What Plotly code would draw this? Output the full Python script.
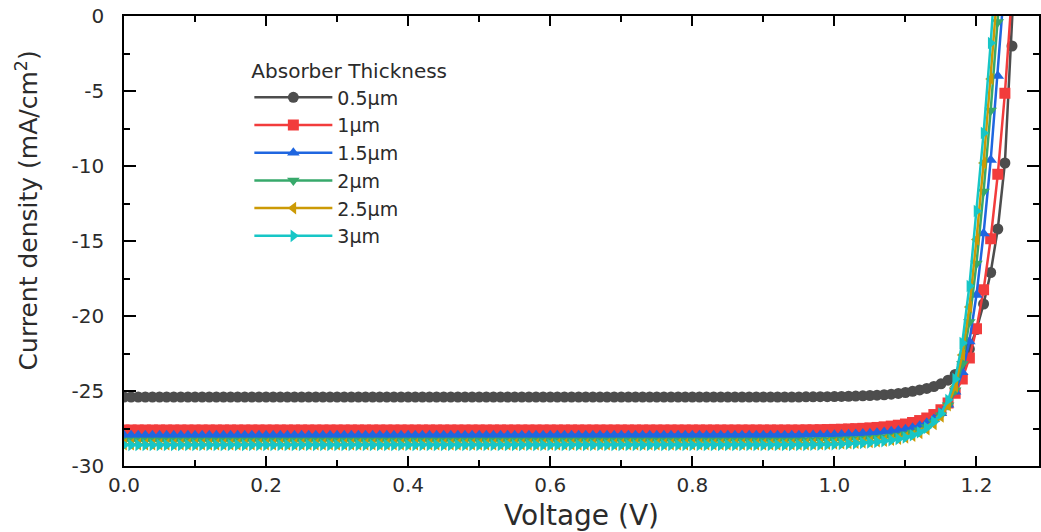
import plotly.graph_objects as go

# Applied bias (V)
voltage = [
    0.00, 0.01, 0.02, 0.03, 0.04, 0.05, 0.06, 0.07, 0.08, 0.09,
    0.10, 0.11, 0.12, 0.13, 0.14, 0.15, 0.16, 0.17, 0.18, 0.19,
    0.20, 0.21, 0.22, 0.23, 0.24, 0.25, 0.26, 0.27, 0.28, 0.29,
    0.30, 0.31, 0.32, 0.33, 0.34, 0.35, 0.36, 0.37, 0.38, 0.39,
    0.40, 0.41, 0.42, 0.43, 0.44, 0.45, 0.46, 0.47, 0.48, 0.49,
    0.50, 0.51, 0.52, 0.53, 0.54, 0.55, 0.56, 0.57, 0.58, 0.59,
    0.60, 0.61, 0.62, 0.63, 0.64, 0.65, 0.66, 0.67, 0.68, 0.69,
    0.70, 0.71, 0.72, 0.73, 0.74, 0.75, 0.76, 0.77, 0.78, 0.79,
    0.80, 0.81, 0.82, 0.83, 0.84, 0.85, 0.86, 0.87, 0.88, 0.89,
    0.90, 0.91, 0.92, 0.93, 0.94, 0.95, 0.96, 0.97, 0.98, 0.99,
    1.00, 1.01, 1.02, 1.03, 1.04, 1.05, 1.06, 1.07, 1.08, 1.09,
    1.10, 1.11, 1.12, 1.13, 1.14, 1.15, 1.16, 1.17, 1.18, 1.19,
    1.20, 1.21, 1.22, 1.23, 1.24, 1.25, 1.26,
]

# Current density (mA/cm^2) for each absorber thickness
j_0p5um = [
    -25.40, -25.40, -25.40, -25.40, -25.40, -25.40, -25.40, -25.40, -25.40, -25.40,
    -25.40, -25.40, -25.40, -25.40, -25.40, -25.40, -25.40, -25.40, -25.40, -25.40,
    -25.40, -25.40, -25.40, -25.40, -25.40, -25.40, -25.40, -25.40, -25.40, -25.40,
    -25.40, -25.40, -25.40, -25.40, -25.40, -25.40, -25.40, -25.40, -25.40, -25.40,
    -25.40, -25.40, -25.40, -25.40, -25.40, -25.40, -25.40, -25.40, -25.40, -25.40,
    -25.40, -25.40, -25.40, -25.40, -25.40, -25.40, -25.40, -25.40, -25.40, -25.40,
    -25.40, -25.40, -25.40, -25.40, -25.40, -25.40, -25.40, -25.40, -25.40, -25.40,
    -25.40, -25.40, -25.40, -25.40, -25.40, -25.40, -25.40, -25.40, -25.40, -25.40,
    -25.40, -25.40, -25.40, -25.40, -25.40, -25.40, -25.40, -25.40, -25.40, -25.40,
    -25.40, -25.40, -25.40, -25.40, -25.40, -25.40, -25.39, -25.39, -25.38, -25.38,
    -25.37, -25.36, -25.35, -25.34, -25.32, -25.30, -25.28, -25.25, -25.21, -25.16,
    -25.10, -25.02, -24.93, -24.83, -24.70, -24.52, -24.28, -23.90, -23.20, -22.20,
    -20.90, -19.20, -17.10, -14.20, -9.80, -2.00, 9.00,
]

j_1um = [
    -27.60, -27.60, -27.60, -27.60, -27.60, -27.60, -27.60, -27.60, -27.60, -27.60,
    -27.60, -27.60, -27.60, -27.60, -27.60, -27.60, -27.60, -27.60, -27.60, -27.60,
    -27.60, -27.60, -27.60, -27.60, -27.60, -27.60, -27.60, -27.60, -27.60, -27.60,
    -27.60, -27.60, -27.60, -27.60, -27.60, -27.60, -27.60, -27.60, -27.60, -27.60,
    -27.60, -27.60, -27.60, -27.60, -27.60, -27.60, -27.60, -27.60, -27.60, -27.60,
    -27.60, -27.60, -27.60, -27.60, -27.60, -27.60, -27.60, -27.60, -27.60, -27.60,
    -27.60, -27.60, -27.60, -27.60, -27.60, -27.60, -27.60, -27.60, -27.60, -27.60,
    -27.60, -27.60, -27.60, -27.60, -27.60, -27.60, -27.60, -27.60, -27.60, -27.60,
    -27.60, -27.60, -27.60, -27.60, -27.60, -27.60, -27.60, -27.60, -27.60, -27.60,
    -27.60, -27.60, -27.60, -27.60, -27.60, -27.60, -27.59, -27.59, -27.58, -27.57,
    -27.56, -27.55, -27.53, -27.51, -27.49, -27.46, -27.43, -27.39, -27.34, -27.28,
    -27.20, -27.10, -26.97, -26.80, -26.57, -26.25, -25.80, -25.15, -24.20, -22.80,
    -20.85, -18.25, -14.85, -10.55, -5.15, 1.55,
]

j_1p5um = [
    -27.95, -27.95, -27.95, -27.95, -27.95, -27.95, -27.95, -27.95, -27.95, -27.95,
    -27.95, -27.95, -27.95, -27.95, -27.95, -27.95, -27.95, -27.95, -27.95, -27.95,
    -27.95, -27.95, -27.95, -27.95, -27.95, -27.95, -27.95, -27.95, -27.95, -27.95,
    -27.95, -27.95, -27.95, -27.95, -27.95, -27.95, -27.95, -27.95, -27.95, -27.95,
    -27.95, -27.95, -27.95, -27.95, -27.95, -27.95, -27.95, -27.95, -27.95, -27.95,
    -27.95, -27.95, -27.95, -27.95, -27.95, -27.95, -27.95, -27.95, -27.95, -27.95,
    -27.95, -27.95, -27.95, -27.95, -27.95, -27.95, -27.95, -27.95, -27.95, -27.95,
    -27.95, -27.95, -27.95, -27.95, -27.95, -27.95, -27.95, -27.95, -27.95, -27.95,
    -27.95, -27.95, -27.95, -27.95, -27.95, -27.95, -27.95, -27.95, -27.95, -27.95,
    -27.95, -27.95, -27.95, -27.95, -27.95, -27.95, -27.94, -27.94, -27.93, -27.92,
    -27.91, -27.90, -27.88, -27.86, -27.84, -27.81, -27.78, -27.74, -27.69, -27.63,
    -27.55, -27.45, -27.31, -27.12, -26.86, -26.48, -25.92, -25.05, -23.75, -21.70,
    -18.60, -14.50, -9.60, -4.00, 2.50,
]

j_2um = [
    -28.30, -28.30, -28.30, -28.30, -28.30, -28.30, -28.30, -28.30, -28.30, -28.30,
    -28.30, -28.30, -28.30, -28.30, -28.30, -28.30, -28.30, -28.30, -28.30, -28.30,
    -28.30, -28.30, -28.30, -28.30, -28.30, -28.30, -28.30, -28.30, -28.30, -28.30,
    -28.30, -28.30, -28.30, -28.30, -28.30, -28.30, -28.30, -28.30, -28.30, -28.30,
    -28.30, -28.30, -28.30, -28.30, -28.30, -28.30, -28.30, -28.30, -28.30, -28.30,
    -28.30, -28.30, -28.30, -28.30, -28.30, -28.30, -28.30, -28.30, -28.30, -28.30,
    -28.30, -28.30, -28.30, -28.30, -28.30, -28.30, -28.30, -28.30, -28.30, -28.30,
    -28.30, -28.30, -28.30, -28.30, -28.30, -28.30, -28.30, -28.30, -28.30, -28.30,
    -28.30, -28.30, -28.30, -28.30, -28.30, -28.30, -28.30, -28.30, -28.30, -28.30,
    -28.30, -28.30, -28.30, -28.30, -28.30, -28.30, -28.29, -28.28, -28.27, -28.26,
    -28.25, -28.24, -28.22, -28.20, -28.18, -28.15, -28.12, -28.08, -28.03, -27.96,
    -27.88, -27.77, -27.62, -27.40, -27.08, -26.62, -25.95, -24.95, -23.20, -20.40,
    -16.50, -11.70, -6.30, -0.40, 6.00,
]

j_2p5um = [
    -28.55, -28.55, -28.55, -28.55, -28.55, -28.55, -28.55, -28.55, -28.55, -28.55,
    -28.55, -28.55, -28.55, -28.55, -28.55, -28.55, -28.55, -28.55, -28.55, -28.55,
    -28.55, -28.55, -28.55, -28.55, -28.55, -28.55, -28.55, -28.55, -28.55, -28.55,
    -28.55, -28.55, -28.55, -28.55, -28.55, -28.55, -28.55, -28.55, -28.55, -28.55,
    -28.55, -28.55, -28.55, -28.55, -28.55, -28.55, -28.55, -28.55, -28.55, -28.55,
    -28.55, -28.55, -28.55, -28.55, -28.55, -28.55, -28.55, -28.55, -28.55, -28.55,
    -28.55, -28.55, -28.55, -28.55, -28.55, -28.55, -28.55, -28.55, -28.55, -28.55,
    -28.55, -28.55, -28.55, -28.55, -28.55, -28.55, -28.55, -28.55, -28.55, -28.55,
    -28.55, -28.55, -28.55, -28.55, -28.55, -28.55, -28.55, -28.55, -28.55, -28.55,
    -28.55, -28.55, -28.55, -28.55, -28.55, -28.55, -28.54, -28.53, -28.52, -28.51,
    -28.50, -28.48, -28.46, -28.44, -28.42, -28.39, -28.35, -28.31, -28.25, -28.18,
    -28.09, -27.97, -27.80, -27.55, -27.20, -26.70, -25.95, -24.70, -22.60, -19.40,
    -14.90, -9.80, -4.20, 2.00,
]

j_3um = [
    -28.60, -28.60, -28.60, -28.60, -28.60, -28.60, -28.60, -28.60, -28.60, -28.60,
    -28.60, -28.60, -28.60, -28.60, -28.60, -28.60, -28.60, -28.60, -28.60, -28.60,
    -28.60, -28.60, -28.60, -28.60, -28.60, -28.60, -28.60, -28.60, -28.60, -28.60,
    -28.60, -28.60, -28.60, -28.60, -28.60, -28.60, -28.60, -28.60, -28.60, -28.60,
    -28.60, -28.60, -28.60, -28.60, -28.60, -28.60, -28.60, -28.60, -28.60, -28.60,
    -28.60, -28.60, -28.60, -28.60, -28.60, -28.60, -28.60, -28.60, -28.60, -28.60,
    -28.60, -28.60, -28.60, -28.60, -28.60, -28.60, -28.60, -28.60, -28.60, -28.60,
    -28.60, -28.60, -28.60, -28.60, -28.60, -28.60, -28.60, -28.60, -28.60, -28.60,
    -28.60, -28.60, -28.60, -28.60, -28.60, -28.60, -28.60, -28.60, -28.60, -28.60,
    -28.60, -28.60, -28.60, -28.60, -28.60, -28.60, -28.59, -28.58, -28.57, -28.56,
    -28.55, -28.53, -28.51, -28.49, -28.46, -28.43, -28.39, -28.34, -28.28, -28.20,
    -28.10, -27.95, -27.75, -27.45, -27.05, -26.50, -25.60, -24.20, -21.80, -18.00,
    -13.00, -7.80, -1.80, 5.00,
]

thickness_labels = ["0.5μm", "1μm", "1.5μm", "2μm", "2.5μm", "3μm"]
currents = [j_0p5um, j_1um, j_1p5um, j_2um, j_2p5um, j_3um]
colors = ["#4d4d4d", "#f23c3c", "#1f66e0", "#37a96b", "#cc9a06", "#17c6c6"]
symbols = ["circle", "square", "triangle-up", "triangle-down",
           "triangle-left", "triangle-right"]

x_tickvals = [0.0, 0.2, 0.4, 0.6, 0.8, 1.0, 1.2]
x_ticktext = ["0.0", "0.2", "0.4", "0.6", "0.8", "1.0", "1.2"]
y_tickvals = [-30, -25, -20, -15, -10, -5, 0]
y_ticktext = ["-30", "-25", "-20", "-15", "-10", "-5", "0"]

FONT = "DejaVu Sans"
TEXT = "#2b2b2b"

fig = go.Figure()
for label, current, color, symbol in zip(thickness_labels, currents, colors, symbols):
    fig.add_trace(go.Scatter(
        x=voltage[:len(current)],
        y=current,
        mode="lines+markers",
        name=label,
        line=dict(color=color, width=2.5),
        marker=dict(symbol=symbol, size=11, color=color, line=dict(width=0)),
    ))

axis_common = dict(
    showline=True, linecolor="black", linewidth=1.5, mirror="ticks",
    ticks="inside", tickcolor="black", tickwidth=1.5,
    showgrid=False, zeroline=False,
    tickfont=dict(family=FONT, size=20, color=TEXT),
)

fig.update_layout(
    width=1041, height=532,
    margin=dict(l=124, r=0, t=16, b=66),
    paper_bgcolor="white", plot_bgcolor="white",
    font=dict(family=FONT, color=TEXT),
    xaxis=dict(
        range=[0, 1.288],
        tickmode="array", tickvals=x_tickvals, ticktext=x_ticktext,
        ticklen=10, ticklabelstandoff=0,
        minor=dict(dtick=0.1, tick0=0, ticks="inside", ticklen=6,
                   tickwidth=1.5, tickcolor="black"),
        title=dict(text="Voltage (V)", font=dict(family=FONT, size=28, color=TEXT),
                   standoff=12),
        **axis_common,
    ),
    yaxis=dict(
        range=[-30, 0],
        tickmode="array", tickvals=y_tickvals, ticktext=y_ticktext,
        ticklen=12, ticklabelstandoff=14,
        minor=dict(dtick=2.5, tick0=0, ticks="inside", ticklen=6,
                   tickwidth=1.5, tickcolor="black"),
        **axis_common,
    ),
    legend=dict(
        title=dict(text="Absorber Thickness", font=dict(family=FONT, size=20, color=TEXT)),
        font=dict(family=FONT, size=19, color=TEXT),
        x=0.137, y=0.919, xanchor="left", yanchor="top",
        bgcolor="rgba(0,0,0,0)", itemwidth=78, tracegroupgap=0,
    ),
    annotations=[dict(
        text="Current density (mA/cm<sup>2</sup>)",
        textangle=-90, showarrow=False,
        xref="paper", yref="paper", x=-0.106, y=0.568,
        xanchor="center", yanchor="middle",
        font=dict(family=FONT, size=25, color=TEXT),
    )],
)

fig.write_html("out.html")
